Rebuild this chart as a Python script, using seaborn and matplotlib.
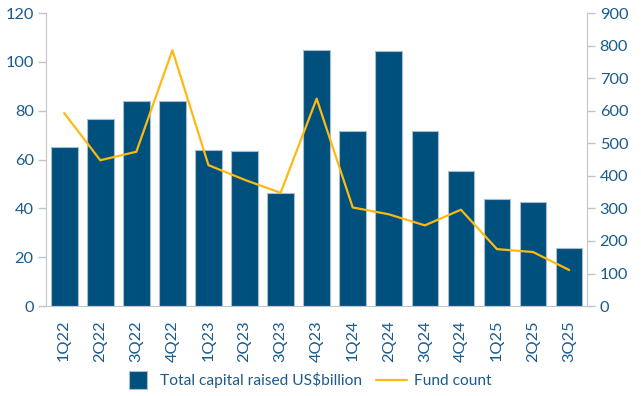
import pandas as pd
import matplotlib.pyplot as plt
import seaborn as sns
from matplotlib.lines import Line2D

# данные
quarters = ['1Q22', '2Q22', '3Q22', '4Q22', '1Q23', '2Q23', '3Q23', '4Q23',
            '1Q24', '2Q24', '3Q24', '4Q24', '1Q25', '2Q25', '3Q25']
capital = [65.2, 76.6, 83.8, 83.8, 64.0, 63.5, 46.3, 104.8,
           71.6, 104.5, 71.6, 55.3, 43.9, 42.6, 23.6]
fund_count = [593, 448, 474, 786, 433, 388, 348, 637,
              303, 282, 248, 296, 175, 166, 111]

df = pd.DataFrame({'quarter': quarters, 'capital': capital, 'funds': fund_count})

bar_color = '#00507d'
line_color = '#fdb913'
text_color = '#1b5b8c'
spine_color = '#c3c6c9'

sns.set_style('white')
plt.rcParams['font.family'] = ['Lato', 'DejaVu Sans']

fig = plt.figure(figsize=(6.41, 3.96), dpi=100)
ax = fig.add_axes([0.072, 0.227, 0.844, 0.740])

# столбцы - привлечённый капитал
sns.barplot(data=df, x='quarter', y='capital', color=bar_color, width=0.74,
            edgecolor='#a9bccb', linewidth=0.8, saturation=1, ax=ax)
ax.set_xlim(-0.5, 14.5)
ax.set_ylim(0, 120)
ax.set_yticks(range(0, 121, 20))

# линия - количество фондов на правой оси
ax2 = ax.twinx()
sns.lineplot(x=range(len(quarters)), y=df['funds'], color=line_color,
             linewidth=1.6, ax=ax2)
ax2.set_ylim(0, 900)
ax2.set_yticks(range(0, 901, 100))

for a in (ax, ax2):
    a.set_xlabel('')
    a.set_ylabel('')
    for s in a.spines.values():
        s.set_visible(False)
    a.tick_params(colors=spine_color, labelcolor=text_color, labelsize=11.8,
                  length=6, width=1)

ax.spines['left'].set_visible(True)
ax.spines['bottom'].set_visible(True)
ax.spines['left'].set_color(spine_color)
ax.spines['bottom'].set_color(spine_color)
ax2.spines['right'].set_visible(True)
ax2.spines['right'].set_color(spine_color)
ax.tick_params(axis='x', rotation=90, pad=4)
ax.tick_params(axis='y', pad=3)
ax2.tick_params(axis='y', pad=3)

handles = [Line2D([0], [0], linestyle='none', marker='s', markersize=13,
                  markerfacecolor=bar_color, markeredgecolor='#a9bccb',
                  markeredgewidth=0.8),
           Line2D([0], [0], color=line_color, linewidth=1.6)]
labels = ['Total capital raised US$billion', 'Fund count']
fig.legend(handles, labels, loc='center', bbox_to_anchor=(0.479, 0.04), ncol=2,
           frameon=False, fontsize=11.2, labelcolor=text_color,
           handlelength=2.0, columnspacing=0.9, handletextpad=0.4)

fig.savefig('out.png', dpi=100)
